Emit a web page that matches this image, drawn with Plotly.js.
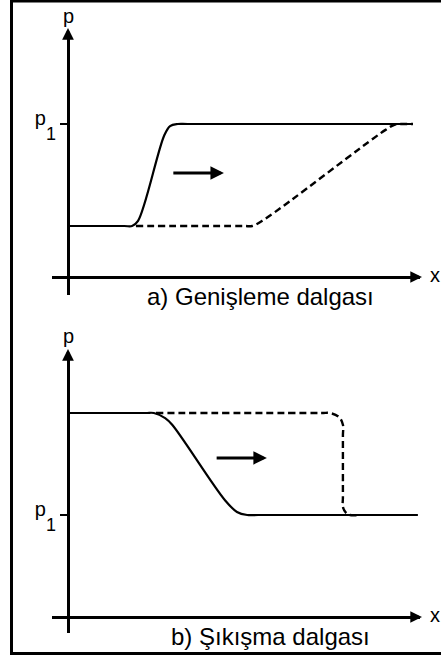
<!DOCTYPE html>
<html>
<head>
<meta charset="utf-8">
<script src="https://cdn.plot.ly/plotly-3.0.1.min.js"></script>
<style>
  html, body { margin: 0; padding: 0; background: #fff; }
  #chart { width: 441px; height: 659px; }
</style>
</head>
<body>
<div id="chart"></div>
<script>
// a) expansion wave: pressure profile before (solid) and later (dashed)
const xExpSolid  = [0, 1.60, 1.82, 1.99, 2.73, 2.90, 3.12, 3.40, 9.80];
const pExpSolid  = [1, 1, 1, 1.10, 2.77, 2.96, 3, 3, 3];
const xExpDashed = [1.93, 5.00, 5.23, 5.60, 9.01, 9.29, 9.55, 9.80];
const pExpDashed = [1, 1, 1, 1.14, 2.88, 2.99, 3, 3];
const pExpTick   = [3];

// b) compression wave: the front steepens into a shock
const xCmpSolid  = [0, 2.20, 2.44, 2.76, 2.96, 4.46, 4.80, 5.09, 5.40, 9.94];
const pCmpSolid  = [4, 4, 4, 3.90, 3.77, 2.29, 2.06, 2, 2, 2];
const xCmpDashed = [2.5, 7.20, 7.44, 7.70, 7.81, 7.81, 7.81, 7.81, 7.90, 8.01, 8.30];
const pCmpDashed = [4, 4, 4, 3.92, 3.77, 3.55, 2.35, 2.16, 2.04, 2, 2];
const pCmpTick   = [2];

const tickLabels = ['p<sub><span style="font-size:18px;baseline-shift:-11px">1</span></sub>'];
const captions   = ['a) Genişleme dalgası', 'b) Şıkışma dalgası'];

// page geometry helpers (pixel -> paper fraction)
const W = 441, H = 659;
const fx = px => px / W;
const fy = py => 1 - py / H;
const XS = 35.2, YS = 51;       // px per data unit
const X0 = 68;                  // pixel column of the p axis
const AX_L = 52, AX_R = 420;    // extent of the x axes
const FONT = 'Liberation Sans, Arial, sans-serif';

function xAxis(baseY) {
  return {
    domain: [fx(AX_L), fx(AX_R)],
    range: [(AX_L - X0) / XS, (AX_R - X0) / XS],
    anchor: 'free', position: fy(baseY),
    showline: true, linecolor: '#000', linewidth: 2.6,
    showgrid: false, zeroline: false, showticklabels: false, ticks: '',
    fixedrange: true
  };
}
function yAxis(baseY, top, bottom, tick) {
  return {
    domain: [fy(bottom), fy(top)],
    range: [(baseY - bottom) / YS, (baseY - top) / YS],
    anchor: 'free', position: fx(X0),
    showline: true, linecolor: '#000', linewidth: 2.6,
    showgrid: false, zeroline: false,
    ticks: 'outside', ticklen: 7, tickwidth: 2, tickcolor: '#000',
    tickvals: tick, ticktext: tickLabels,
    ticklabelshift: -6,
    tickfont: { family: FONT, size: 20, color: '#000' },
    fixedrange: true
  };
}

const solid  = { color: '#000', width: 2.2, shape: 'spline', smoothing: 1 };
const dashed = { color: '#000', width: 2.4, shape: 'spline', smoothing: 1, dash: '7px,4px' };

const traces = [
  { x: xExpDashed, y: pExpDashed, xaxis: 'x',  yaxis: 'y',  mode: 'lines', line: dashed, hoverinfo: 'skip' },
  { x: xExpSolid,  y: pExpSolid,  xaxis: 'x',  yaxis: 'y',  mode: 'lines', line: solid,  hoverinfo: 'skip' },
  { x: xCmpDashed, y: pCmpDashed, xaxis: 'x2', yaxis: 'y2', mode: 'lines', line: dashed, hoverinfo: 'skip' },
  { x: xCmpSolid,  y: pCmpSolid,  xaxis: 'x2', yaxis: 'y2', mode: 'lines', line: solid,  hoverinfo: 'skip' }
];

// arrowheads at the ends of the axes
function axisHead(px, py, dx, dy) {
  return { xref: 'paper', yref: 'paper', x: fx(px), y: fy(py), ax: dx, ay: dy,
           text: '', showarrow: true, arrowhead: 2, arrowsize: 0.9, arrowwidth: 2.6,
           arrowcolor: '#000', standoff: 0 };
}
function label(txt, px, py, size) {
  return { xref: 'paper', yref: 'paper', x: fx(px), y: fy(py), text: txt,
           showarrow: false, xanchor: 'center', yanchor: 'middle',
           font: { family: FONT, size: size, color: '#000' } };
}
// direction of wave travel
function travel(xr, yr, x0, x1, p) {
  return { xref: xr, yref: yr, axref: xr, ayref: yr, x: x1, y: p, ax: x0, ay: p,
           text: '', showarrow: true, arrowhead: 2, arrowsize: 0.9, arrowwidth: 3,
           arrowcolor: '#000', standoff: 0 };
}

const layout = {
  width: W, height: H,
  margin: { l: 0, r: 0, t: 0, b: 0 },
  paper_bgcolor: '#fff', plot_bgcolor: 'rgba(0,0,0,0)',
  showlegend: false,
  xaxis:  xAxis(277),
  yaxis:  yAxis(277, 35, 295, pExpTick),
  xaxis2: xAxis(617),
  yaxis2: yAxis(617, 355, 633, pCmpTick),
  shapes: [
    { type: 'rect', xref: 'paper', yref: 'paper',
      x0: fx(11.5), x1: 1.05, y0: fy(653.5), y1: fy(1),
      line: { color: '#000', width: 3 }, fillcolor: 'rgba(0,0,0,0)' }
  ],
  annotations: [
    axisHead(68, 28, 0, 12), axisHead(422, 277, -12, 0),
    axisHead(68, 349, 0, 12), axisHead(422, 617, -12, 0),
    label('p', 68, 16, 20), label('x', 435, 275, 20),
    label('p', 68, 336, 20), label('x', 435, 615, 20),
    label(captions[0], 260, 297, 24),
    label(captions[1], 270, 636, 24),
    travel('x', 'y', 2.95, 4.43, 2.04),
    travel('x2', 'y2', 4.18, 5.65, 3.12)
  ]
};

Plotly.newPlot('chart', traces, layout, { staticPlot: true, displayModeBar: false });
</script>
</body>
</html>
